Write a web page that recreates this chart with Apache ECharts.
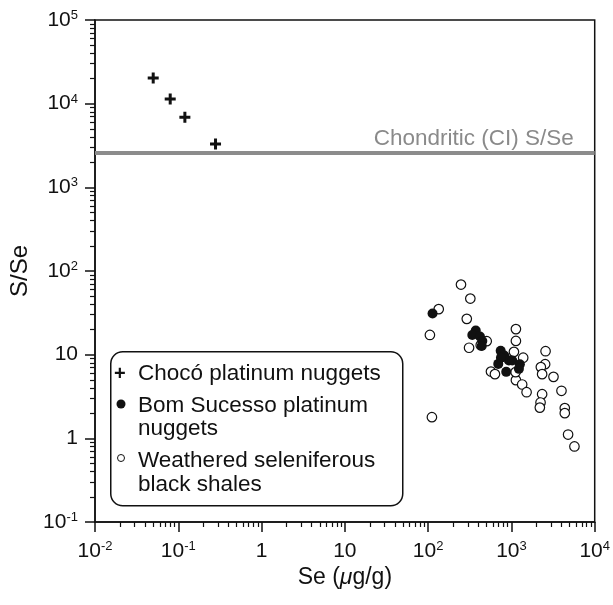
<!DOCTYPE html>
<html>
<head>
<meta charset="utf-8">
<script src="https://cdn.jsdelivr.net/npm/echarts@6/dist/echarts.min.js"></script>
<style>
html,body{margin:0;padding:0;background:#fff;}
#main{width:613px;height:605px;}
</style>
</head>
<body>
<div id="main"></div>
<script>
var FONT = '"Liberation Sans", Arial, Helvetica, sans-serif';

// Chocó platinum nuggets
var chocoSe  = [0.050, 0.080, 0.12, 0.28];
var chocoSSe = [20300, 11400, 6900, 3300];

// Bom Sucesso platinum nuggets
var bomSe  = [113, 373, 339, 419, 447, 440, 743, 820, 933, 1023, 695, 866, 1264, 1230, 748];
var bomSSe = [31.0, 19.4, 17.2, 16.5, 14.6, 12.7, 11.1, 9.75, 8.5, 8.5, 7.76, 6.23, 7.7, 6.77, 9.2];

// Weathered seleniferous black shales
var shaleSe  = [248, 321, 134, 291, 105, 1132, 1132, 505, 310, 428, 1072, 1385, 2570, 2540, 2256, 2337,
                3200, 568, 634, 1132, 1346, 1521, 2337, 2237, 2194, 3990, 4373, 4373, 4790, 5710, 111, 1122];
var shaleSSe = [68.8, 46.8, 35.0, 26.8, 17.2, 20.2, 14.6, 14.5, 12.1, 13.0, 10.8, 9.2, 11.0, 7.7, 7.1, 5.85,
                5.43, 6.28, 5.85, 4.96, 4.40, 3.56, 3.37, 2.68, 2.33, 3.70, 2.30, 2.0, 1.11, 0.80, 1.79, 6.18];

var chondriticSSe = 2560;

var xTickLabels = ['10^-2', '10^-1', '1', '10', '10^2', '10^3', '10^4'];
var yTickLabels = ['10^-1', '1', '10', '10^2', '10^3', '10^4', '10^5'];

function pairs(xs, ys){
    var out = [];
    for (var i = 0; i < xs.length; i++) out.push([xs[i], ys[i]]);
    return out;
}
function richLabel(s){
    var p = s.split('^');
    return p.length > 1 ? '{b|' + p[0] + '}{s|' + p[1] + '}' : '{b|' + p[0] + '}';
}
function minorTicks(lo, hi){
    var out = [];
    for (var d = lo; d < hi; d++)
        for (var m = 2; m < 10; m++) out.push(d + Math.log10(m));
    return out;
}
var tickRich = {
    b: {fontFamily: FONT, fontSize: 21, color: '#111', lineHeight: 22},
    s: {fontFamily: FONT, fontSize: 13, color: '#111', lineHeight: 13, verticalAlign: 'top'}
};

var chart = echarts.init(document.getElementById('main'), null, {renderer: 'canvas'});
var option = {
    animation: false,
    grid: {left: 95, right: 17, top: 20, bottom: 83, show: true, borderColor: '#111', borderWidth: 1.5},
    xAxis: [{
        type: 'log', logBase: 10, min: 0.01, max: 10000, interval: 1,
        position: 'bottom',
        name: '{n|Se (}{i|\u03bc}{n|g/g)}',
        nameLocation: 'middle', nameGap: 39,
        nameTextStyle: {rich: {
            n: {fontFamily: FONT, fontSize: 23, color: '#111'},
            i: {fontFamily: FONT, fontSize: 23, color: '#111', fontStyle: 'italic'}
        }},
        axisLine: {onZero: false, lineStyle: {color: '#111', width: 1.5}},
        axisTick: {length: 10, lineStyle: {color: '#111', width: 1.5}},
        axisLabel: {margin: 18, rich: tickRich, formatter: function(v){
            return richLabel(xTickLabels[Math.round(Math.log10(v)) + 2]);
        }},
        splitLine: {show: false}
    }, {
        type: 'value', min: -2, max: 4, position: 'bottom',
        axisLine: {show: false, onZero: false}, axisLabel: {show: false}, splitLine: {show: false},
        axisTick: {customValues: minorTicks(-2, 4), length: 5, lineStyle: {color: '#111', width: 1.2}}
    }],
    yAxis: [{
        type: 'log', logBase: 10, min: 0.1, max: 100000, interval: 1,
        position: 'left',
        name: 'S/Se', nameLocation: 'middle', nameGap: 61, nameRotate: 90,
        nameTextStyle: {fontFamily: FONT, fontSize: 24, color: '#111'},
        axisLine: {onZero: false, lineStyle: {color: '#111', width: 1.5}},
        axisTick: {length: 10, lineStyle: {color: '#111', width: 1.5}},
        axisLabel: {margin: 17, rich: tickRich, formatter: function(v){
            return richLabel(yTickLabels[Math.round(Math.log10(v)) + 1]);
        }},
        splitLine: {show: false}
    }, {
        type: 'value', min: -1, max: 5, position: 'left',
        axisLine: {show: false, onZero: false}, axisLabel: {show: false}, splitLine: {show: false},
        axisTick: {customValues: minorTicks(-1, 5), length: 5, lineStyle: {color: '#111', width: 1.2}}
    }],
    series: [{
        name: 'Weathered seleniferous black shales',
        type: 'scatter', xAxisIndex: 0, yAxisIndex: 0,
        data: pairs(shaleSe, shaleSSe),
        symbol: 'circle', symbolSize: 9.5,
        itemStyle: {color: '#fff', borderColor: '#111', borderWidth: 1.2, opacity: 1}
    }, {
        name: 'Bom Sucesso platinum nuggets',
        type: 'scatter', xAxisIndex: 0, yAxisIndex: 0,
        data: pairs(bomSe, bomSSe),
        symbol: 'circle', symbolSize: 10,
        itemStyle: {color: '#111', opacity: 1}
    }, {
        name: 'Chocó platinum nuggets',
        type: 'scatter', xAxisIndex: 0, yAxisIndex: 0,
        data: pairs(chocoSe, chocoSSe),
        symbol: 'path://M4,0H7V4H11V7H7V11H4V7H0V4H4Z', symbolSize: 11,
        itemStyle: {color: '#111', opacity: 1},
        markLine: {
            silent: true, symbol: 'none',
            lineStyle: {color: '#8c8c8c', width: 4, type: 'solid', opacity: 1},
            label: {
                position: 'insideEndTop', formatter: 'Chondritic (CI) S/Se',
                fontFamily: FONT, fontSize: 22.5, color: '#8a8a8a', distance: [21, 3]
            },
            data: [{yAxis: chondriticSSe}]
        }
    }],
    graphic: [{
        type: 'rect', left: 110, top: 351, z: 10,
        shape: {width: 292, height: 154, r: 12},
        style: {fill: '#fff', stroke: '#111', lineWidth: 1.5}
    }, {
        type: 'text', left: 114, top: 364, z: 11,
        style: {text: '+', font: 'bold 20px ' + FONT, fill: '#111'}
    }, {
        type: 'circle', shape: {cx: 121, cy: 404, r: 4.5}, z: 11,
        style: {fill: '#111'}
    }, {
        type: 'circle', shape: {cx: 121, cy: 458, r: 3.5}, z: 11,
        style: {fill: '#fff', stroke: '#111', lineWidth: 1}
    }, {
        type: 'text', left: 138, top: 362, z: 11,
        style: {text: 'Chocó platinum nuggets', font: '22.5px ' + FONT, fill: '#111'}
    }, {
        type: 'text', left: 138, top: 394, z: 11,
        style: {text: 'Bom Sucesso platinum\nnuggets', font: '22.5px ' + FONT, fill: '#111', lineHeight: 23}
    }, {
        type: 'text', left: 138, top: 449, z: 11,
        style: {text: 'Weathered seleniferous\nblack shales', font: '22.5px ' + FONT, fill: '#111', lineHeight: 24}
    }]
};
chart.setOption(option);
</script>
</body>
</html>
